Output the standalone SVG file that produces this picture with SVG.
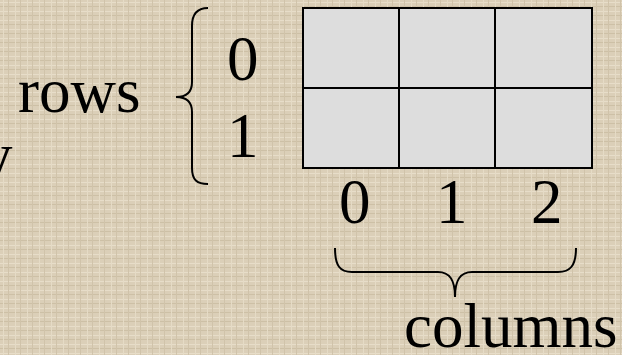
<svg xmlns="http://www.w3.org/2000/svg" width="622" height="355" viewBox="0 0 622 355">
<defs>
<pattern id="tex" width="12" height="9" patternUnits="userSpaceOnUse">
<rect width="12" height="9" fill="#dbcfb8"/>
<rect x="0" y="2" width="12" height="1" fill="#e7ddc9"/>
<rect x="0" y="6" width="12" height="1" fill="#cdc0a6"/>
<rect x="3" y="0" width="1" height="9" fill="#e5dbc6"/>
<rect x="8" y="0" width="1" height="9" fill="#d0c3aa"/>
</pattern>
<style>
.t{font-family:"Liberation Serif","Times New Roman",serif;font-size:63px;fill:#000}
.cell{fill:#dddddd;stroke:#000;stroke-width:2}
.brace{fill:none;stroke:#000;stroke-width:2}
</style>
</defs>
<rect width="622" height="355" fill="url(#tex)"/>
<text class="t" x="-19" y="176">y</text>
<g id="rows-label"><text class="t" x="18" y="112">rows</text></g>
<g id="row-indices">
<text class="t" x="227" y="80">0</text>
<text class="t" x="227" y="157">1</text>
</g>
<g id="grid">
<rect class="cell" x="303" y="8" width="96" height="80"/>
<rect class="cell" x="399" y="8" width="96" height="80"/>
<rect class="cell" x="495" y="8" width="97" height="80"/>
<rect class="cell" x="303" y="88" width="96" height="80"/>
<rect class="cell" x="399" y="88" width="96" height="80"/>
<rect class="cell" x="495" y="88" width="97" height="80"/>
</g>
<g id="col-indices">
<text class="t" x="339" y="223">0</text>
<text class="t" x="436" y="223">1</text>
<text class="t" x="531" y="223">2</text>
</g>
<g id="columns-label"><text class="t" x="404" y="347">columns</text></g>
<g id="connectors">
<path class="brace" d="M208,8 C197,8 192,14 192,26 L192,82 C192,92 186,97 176,97 C186,97 192,102 192,112 L192,168 C192,180 197,184 208,184"/>
<path class="brace" d="M335,248 C335,266 340,272 352,272 L438,272 C450,272 455,280 455,297 C455,280 460,272 472,272 L558,272 C570,272 576,266 576,248"/>
</g>
</svg>
